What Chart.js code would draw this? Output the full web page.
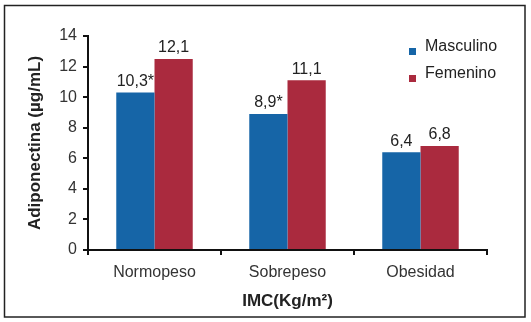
<!DOCTYPE html>
<html>
<head>
<meta charset="utf-8">
<script src="https://cdn.jsdelivr.net/npm/chart.js@4"></script>
<style>
    html, body { margin: 0; padding: 0; background: #fff; }
    #wrap { width: 531px; height: 322px; position: relative; }
</style>
</head>
<body>
<div id="wrap"><canvas id="myChart"></canvas></div>
<script>
// categories and series
const categories = ['Normopeso', 'Sobrepeso', 'Obesidad'];
const masculino = [10.3, 8.9, 6.4];
const femenino = [12.5, 11.1, 6.8];
// printed labels above bars (as in the original figure)
const masculinoLabels = ['10,3*', '8,9*', '6,4'];
const femeninoLabels = ['12,1', '11,1', '6,8'];
const yTicks = [0, 2, 4, 6, 8, 10, 12, 14];

const fontFamily = '"Liberation Sans", Arial, sans-serif';

// white background + frame around the figure
const framePlugin = {
    id: 'frame',
    beforeDraw(chart) {
        const c = chart.ctx;
        c.save();
        c.fillStyle = '#fff';
        c.fillRect(0, 0, chart.width, chart.height);
        c.restore();
    },
    afterDraw(chart) {
        const c = chart.ctx;
        c.save();
        c.strokeStyle = '#222';
        c.lineWidth = 1.5;
        c.strokeRect(4.5, 5.5, 520.5, 311.5);
        c.restore();
    }
};

// value labels on top of bars
const valueLabels = {
    id: 'valueLabels',
    afterDatasetsDraw(chart) {
        const c = chart.ctx;
        c.save();
        c.font = '16px ' + fontFamily;
        c.fillStyle = '#222';
        c.textAlign = 'center';
        c.textBaseline = 'bottom';
        chart.data.datasets.forEach(function (ds, i) {
            chart.getDatasetMeta(i).data.forEach(function (bar, j) {
                c.fillText(ds.valueText[j], bar.x, bar.y - 3);
            });
        });
        c.restore();
    }
};

// legend inside the plot, top right
const insideLegend = {
    id: 'insideLegend',
    afterDraw(chart) {
        const c = chart.ctx;
        c.save();
        c.font = '16px ' + fontFamily;
        c.textBaseline = 'middle';
        c.textAlign = 'left';
        chart.data.datasets.forEach(function (ds, i) {
            const y = 47 + i * 27;
            c.fillStyle = ds.backgroundColor;
            c.fillRect(409, y + 1, 7, 7);
            c.fillStyle = '#222';
            c.fillText(ds.label, 425, y);
        });
        c.restore();
    }
};

const ctx = document.getElementById('myChart').getContext('2d');
const chart = new Chart(ctx, {
    type: 'bar',
    data: {
        labels: categories,
        datasets: [{
            label: 'Masculino',
            data: masculino,
            valueText: masculinoLabels,
            backgroundColor: '#1665a7',
            categoryPercentage: 0.575,
            barPercentage: 1
        }, {
            label: 'Femenino',
            data: femenino,
            valueText: femeninoLabels,
            backgroundColor: '#aa2a3e',
            categoryPercentage: 0.575,
            barPercentage: 1
        }]
    },
    options: {
        responsive: true,
        maintainAspectRatio: false,
        animation: false,
        layout: { padding: { left: 0, right: 44, top: 36, bottom: 0 } },
        plugins: {
            legend: { display: false },
            tooltip: { enabled: false }
        },
        scales: {
            x: {
                grid: { drawOnChartArea: false, color: '#111', tickLength: 5, lineWidth: 2 },
                border: { color: '#111', width: 2 },
                ticks: { color: '#333', font: { family: fontFamily, size: 16 }, padding: 8 },
                title: {
                    display: true,
                    text: 'IMC(Kg/m²)',
                    color: '#222',
                    font: { family: fontFamily, size: 17, weight: 'bold' },
                    padding: { top: 0, bottom: 10 }
                },
                afterFit(scale) { scale.height = 72; }
            },
            y: {
                min: 0,
                max: 14,
                afterBuildTicks(scale) { scale.ticks = yTicks.map(v => ({ value: v })); },
                grid: { drawOnChartArea: false, color: '#111', tickLength: 5, lineWidth: 2 },
                border: { color: '#111', width: 2 },
                ticks: { color: '#333', font: { family: fontFamily, size: 16 }, padding: 6 },
                title: {
                    display: true,
                    text: 'Adiponectina (µg/mL)',
                    color: '#222',
                    font: { family: fontFamily, size: 17, weight: 'bold' },
                    padding: { top: 25, bottom: 0 }
                },
                afterFit(scale) { scale.width = 88; }
            }
        }
    },
    plugins: [framePlugin, valueLabels, insideLegend]
});
</script>
</body>
</html>
